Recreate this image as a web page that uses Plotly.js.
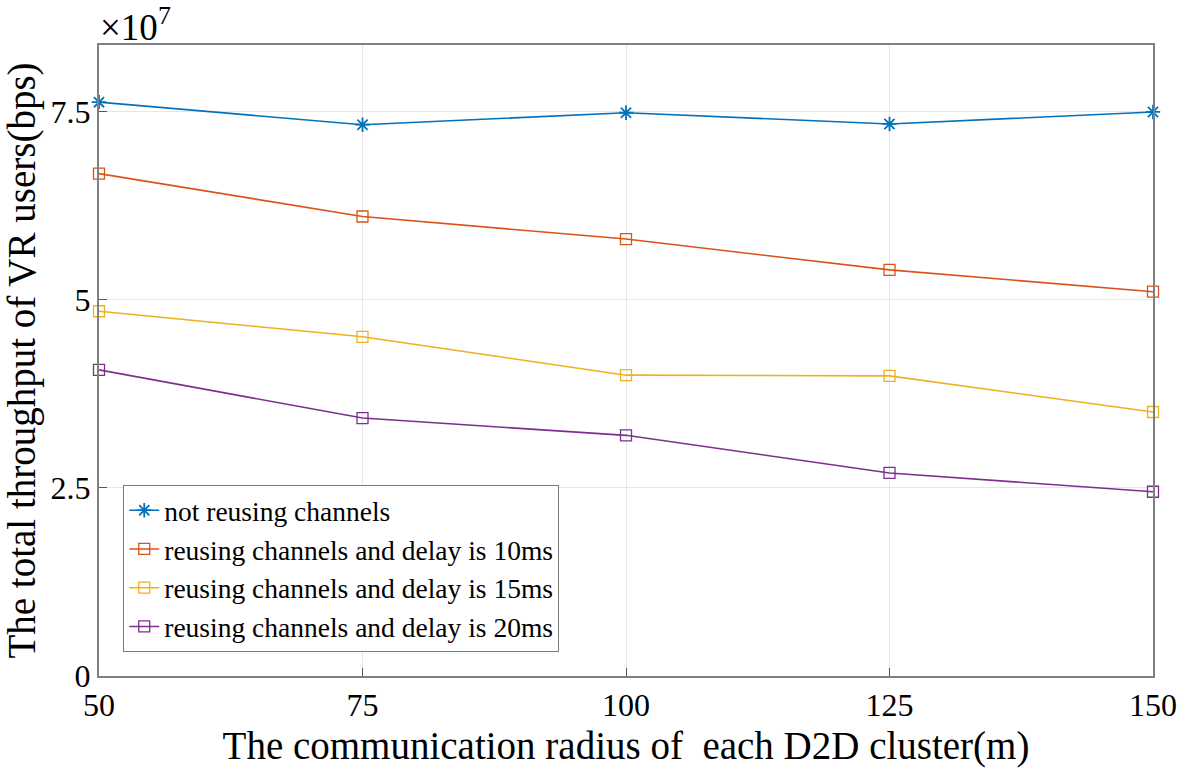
<!DOCTYPE html>
<html><head><meta charset="utf-8">
<script src="https://cdn.plot.ly/plotly-3.0.1.min.js"></script>
<style>body{margin:0;background:#fff}#c{width:1181px;height:777px}</style>
</head><body><div id="c"></div>
<script>
const radius = [50, 75, 100, 125, 150];
const notReusing = [7.63, 7.33, 7.49, 7.34, 7.50];
const delay10 = [6.68, 6.11, 5.81, 5.40, 5.11];
const delay15 = [4.85, 4.51, 4.00, 3.99, 3.51];
const delay20 = [4.07, 3.43, 3.20, 2.70, 2.45];
const names = ["not reusing channels", "reusing channels and delay is 10ms", "reusing channels and delay is 15ms", "reusing channels and delay is 20ms"];
const yTicks = [0, 2.5, 5, 7.5];
const yTickText = ["0", "2.5", "5", "7.5"];
const scale = 1e7;

const colors = ["#0072BD", "#D95319", "#EDB120", "#7E2F8E"];
const series = [notReusing, delay10, delay15, delay20];
const traces = series.map((s, i) => ({
  x: radius, y: s.map(v => v * scale), name: names[i], type: "scatter", mode: "lines+markers",
  line: {color: colors[i], width: 1.6},
  marker: i === 0 ? {symbol: "asterisk-open", size: 12, color: colors[i], line: {color: colors[i], width: 1.8}}
                  : {symbol: "square-open", size: 11, color: colors[i], line: {color: colors[i], width: 1.3}},
  cliponaxis: false
}));
const font = "'Liberation Serif', 'Times New Roman', Times, serif";
const layout = {
  width: 1181, height: 777,
  margin: {l: 99, r: 28, t: 45, b: 101},
  paper_bgcolor: "#fff", plot_bgcolor: "#fff",
  font: {family: font, color: "#000"},
  showlegend: true,
  legend: {x: 0.023, y: 0.303, xanchor: "left", yanchor: "top", bgcolor: "#fff", bordercolor: "#7a7a7a", borderwidth: 1,
    font: {family: font, size: 27.5, color: "#000"}, tracegroupgap: 0},
  xaxis: {range: [50, 150], tickvals: radius, ticktext: radius.map(String), showgrid: true, gridcolor: "#e6e6e6",
    showline: true, linecolor: "#808080", linewidth: 2, mirror: true, ticks: "inside", ticklen: 8, tickcolor: "#555",
    zeroline: false, tickfont: {size: 32, family: font},
    title: {text: "The communication radius of&nbsp; each D2D cluster(m)", font: {size: 39, family: font}, standoff: 9}},
  yaxis: {range: [0, 8.39e7], tickvals: yTicks.map(v => v * scale), ticktext: yTickText, showgrid: true, gridcolor: "#e6e6e6",
    showline: true, linecolor: "#808080", linewidth: 2, mirror: true, ticks: "inside", ticklen: 8, tickcolor: "#555",
    zeroline: false, tickfont: {size: 32, family: font},
    title: {text: "The total throughput of VR users(bps)", font: {size: 39, family: font}, standoff: 6}},
  annotations: [{text: "×10<sup>7</sup>", xref: "paper", yref: "paper", x: 0, y: 1, xanchor: "left", yanchor: "bottom",
    showarrow: false, font: {size: 37, family: font}, xshift: -1, yshift: -5}]
};
Plotly.newPlot("c", traces, layout, {displayModeBar: false});
</script></body></html>
